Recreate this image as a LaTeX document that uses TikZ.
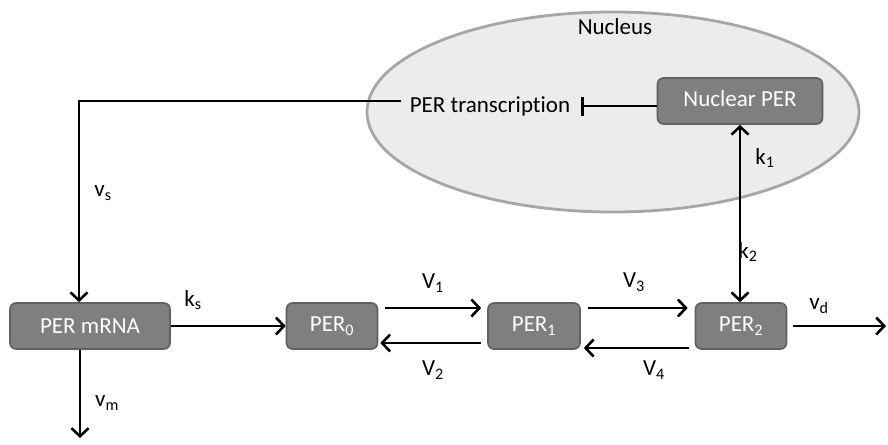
\documentclass[tikz,border=0pt]{standalone}
\usepackage{fontspec}
\setmainfont{Carlito}[Ligatures=NoCommon]
\usetikzlibrary{arrows.meta,shapes.geometric}
\definecolor{boxfill}{HTML}{7F7F7F}
\definecolor{boxedge}{HTML}{606060}
\definecolor{ellfill}{HTML}{ECECEC}
\definecolor{elledge}{HTML}{A6A6A6}
\begin{document}
\begin{tikzpicture}[x=1pt,y=-1pt,
  font=\fontsize{23}{26}\selectfont,
  box/.style={draw=boxedge, fill=boxfill, rounded corners=6pt, line width=1.6pt,
    text=white, minimum height=46pt, inner sep=0pt},
  lbl/.style={inner sep=0pt},
  conn/.style={line width=2.6pt, -{Straight Barb[length=8pt,width=17pt,line width=2.6pt]}},
  both/.style={line width=2.6pt, {Straight Barb[length=8pt,width=17pt,line width=2.6pt]}-{Straight Barb[length=8pt,width=17pt,line width=2.6pt]}},
  inhib/.style={line width=2.2pt, -{Bar[width=19pt,line width=2.4pt]}}]
\useasboundingbox (0,0) rectangle (888,444);
\node[ellipse, draw=elledge, fill=ellfill, line width=2.8pt, minimum width=492pt, minimum height=200pt, inner sep=0pt] (nucleus) at (613,112) {};
\node[lbl] (nlabel) at (615,27) {Nucleus};
\node[lbl] (trans) at (490,106) {PER transcription};
\node[box, minimum width=165pt] (nuc) at (740,101) {\raisebox{5pt}{Nuclear PER}};
\node[box, minimum width=160pt] (mrna) at (90,326) {PER mRNA};
\node[box, minimum width=91pt] (p0) at (332,326) {PER\textsubscript{0}};
\node[box, minimum width=92pt] (p1) at (534,326) {PER\textsubscript{1}};
\node[box, minimum width=91pt] (p2) at (741,326) {PER\textsubscript{2}};
\coordinate (vmend) at (80,438);
\coordinate (vdend) at (886,326);
% connectors
\draw[conn] ([shift={(-9pt,5pt)}]trans.west) -| ([xshift=-11pt]mrna.north);
\draw[inhib] (nuc.west |- trans.east) -- ([xshift=11pt]trans.east);
\draw[both] (nuc.south) -- (nuc.south |- p2.north);
\draw[conn] (mrna.east) -- (p0.west);
\draw[conn] ([xshift=-10pt]mrna.south) -- (vmend);
\draw[conn] ([shift={(7pt,18pt)}]p0.east) -- ([shift={(-6pt,18pt)}]p1.west);
\draw[conn] ([shift={(-6pt,-17pt)}]p1.west) -- ([shift={(2pt,-17pt)}]p0.east);
\draw[conn] ([shift={(7pt,18pt)}]p1.east) -- ([shift={(-7pt,18pt)}]p2.west);
\draw[conn] ([shift={(-6pt,-22pt)}]p2.west) -- ([shift={(3pt,-22pt)}]p1.east);
\draw[conn] ([xshift=6pt]p2.east) -- (vdend);
% labels
\node[lbl] (ks) at (193,300) {k\textsubscript{s}};
\node[lbl] (vs) at (103,193) {v\textsubscript{s}};
\node[lbl] (vm) at (107,403) {v\textsubscript{m}};
\node[lbl] (v1) at (433,283) {V\textsubscript{1}};
\node[lbl] (v2) at (433,370) {V\textsubscript{2}};
\node[lbl] (v3) at (634,282) {V\textsubscript{3}};
\node[lbl] (v4) at (654,370) {V\textsubscript{4}};
\node[lbl] (vd) at (819,306) {v\textsubscript{d}};
\node[lbl] (k1) at (765,158) {k\textsubscript{1}};
\node[lbl] (k2) at (748,252) {k\textsubscript{2}};
\end{tikzpicture}
\end{document}
